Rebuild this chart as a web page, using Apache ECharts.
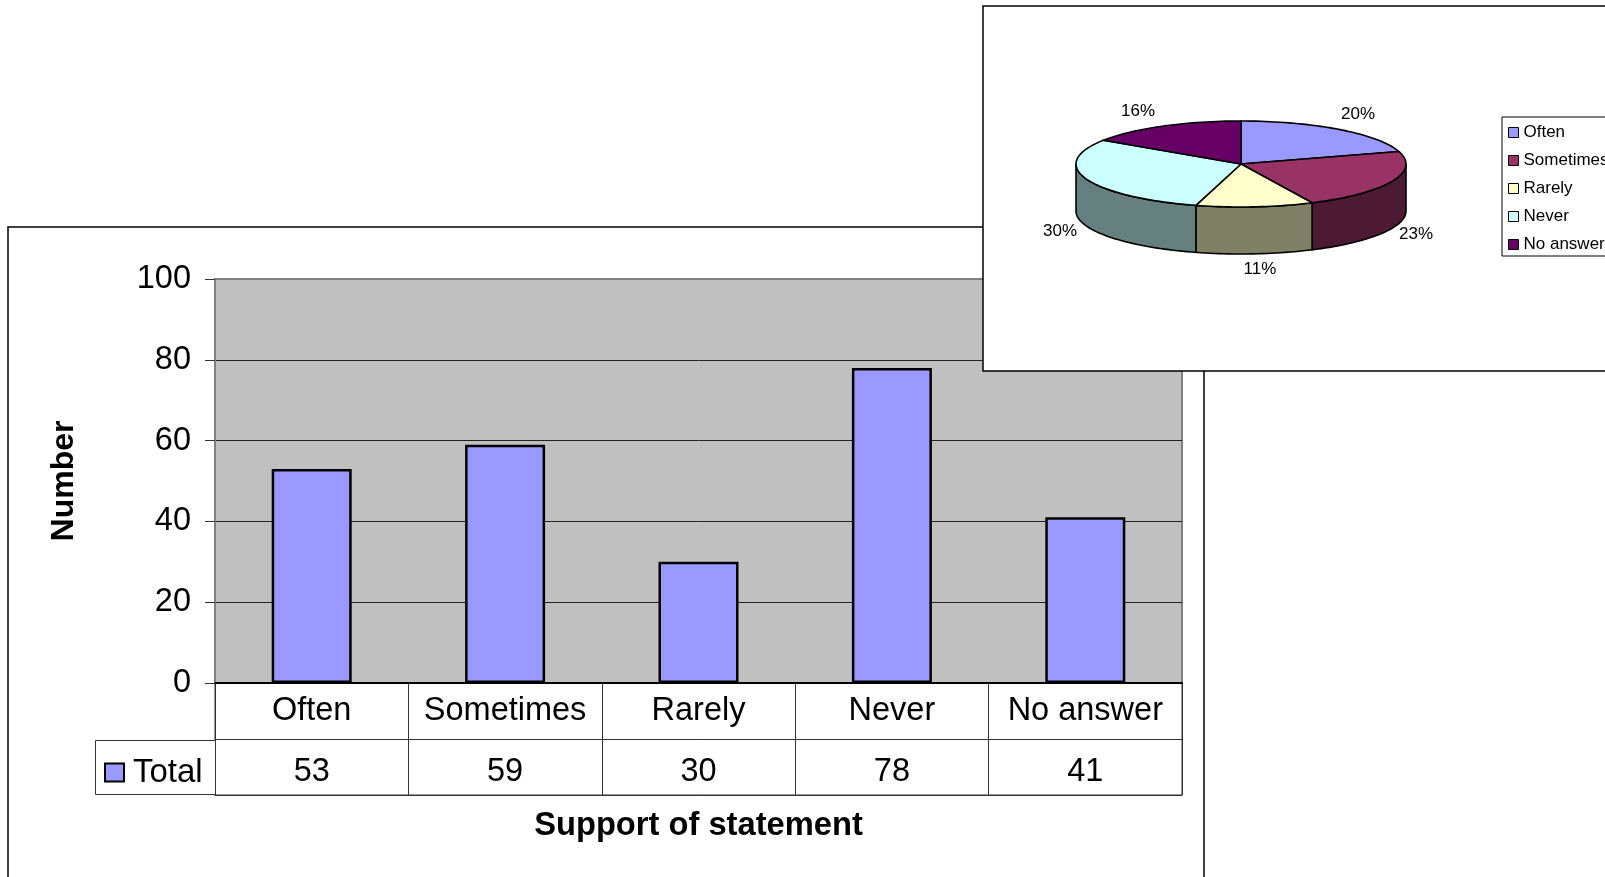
<!DOCTYPE html>
<html><head><meta charset="utf-8">
<style>html,body{margin:0;padding:0;background:#fff;overflow:hidden}#c{width:1605px;height:877px}</style>
<script src="https://cdn.jsdelivr.net/npm/echarts@6/dist/echarts.min.js"></script>
</head><body><div id="c"></div>
<script>
const categories = ['Often','Sometimes','Rarely','Never','No answer'];
const totals = [53,59,30,78,41];
const yTicks = [0,20,40,60,80,100];
const pieTopColors = ['#9999FF','#993366','#FFFFCC','#CCFFFF','#660066'];
const pieSideColors = ['#4D4D80','#4D1A33','#808066','#668080','#330033'];
const pieLabelOffsets = [[117,-50],[175,70],[19,105],[-181,67],[-103,-53]];

const FONT = '"Liberation Sans", Arial, sans-serif';
const pie = {cx:1241, cy:164, rx:165, ry:43, depth:47};
const sum = totals.reduce((a,b)=>a+b,0);
const chart = echarts.init(document.getElementById('c'));

function pt(t, dy){ return [pie.cx + pie.rx*Math.sin(t), pie.cy - pie.ry*Math.cos(t) + (dy||0)]; }
function arc(a,b,dy){
  const n = Math.max(2, Math.ceil(Math.abs(b-a)/0.03)), out=[];
  for(let i=0;i<=n;i++) out.push(pt(a+(b-a)*i/n,dy));
  return out;
}
function sliceItem(idx){
  return function(){
    const before = totals.slice(0,idx).reduce((a,b)=>a+b,0);
    const a0 = before/sum*2*Math.PI, a1 = (before+totals[idx])/sum*2*Math.PI;
    const children = [];
    const f0 = Math.max(a0,Math.PI/2), f1 = Math.min(a1,Math.PI*1.5);
    if(f1>f0){
      children.push({type:'polygon',z2:1,shape:{points:arc(f0,f1,0).concat(arc(f1,f0,pie.depth))},
        style:{fill:pieSideColors[idx],stroke:'#000',lineWidth:1.6}});
    }
    children.push({type:'polygon',z2:2,shape:{points:[[pie.cx,pie.cy]].concat(arc(a0,a1,0))},
      style:{fill:pieTopColors[idx],stroke:'#000',lineWidth:1.6}});
    children.push({type:'text',z2:3,x:pie.cx+pieLabelOffsets[idx][0],y:pie.cy+pieLabelOffsets[idx][1],
      style:{text:Math.round(totals[idx]/sum*100)+'%',fill:'#000',font:'17px '+FONT,textAlign:'center',textVerticalAlign:'middle'}});
    return {type:'group',children};
  };
}

const pieSeries = categories.map((name,i)=>({
  type:'custom', name, coordinateSystem:'none', z:10, silent:true, animation:false,
  data:[totals[i]], renderItem:sliceItem(i),
  itemStyle:{color:pieTopColors[i],borderColor:'#000',borderWidth:1}
}));

chart.setOption({
  animation:false,
  backgroundColor:'#fff',
  textStyle:{fontFamily:FONT,color:'#000'},
  graphic:[
    {type:'rect',z:-5,silent:true,shape:{x:8,y:227,width:1196,height:700},style:{fill:'#fff',stroke:'#000',lineWidth:1.5}},
    {type:'rect',z:1,silent:true,shape:{x:95.5,y:740.5,width:120,height:54},style:{fill:'#fff',stroke:'#333',lineWidth:1}},
    {type:'rect',z:5,silent:true,shape:{x:983,y:6,width:700,height:365},style:{fill:'#fff',stroke:'#000',lineWidth:1.5}}
  ],
  legend:[
    {show:true,data:categories,orient:'vertical',left:1502,top:117,z:10,padding:[7,4,3,6],itemGap:11,itemWidth:10,itemHeight:10,
     borderColor:'#000',borderWidth:1,backgroundColor:'#fff',selectedMode:false,
     itemStyle:{borderColor:'#000',borderWidth:1},textStyle:{fontSize:17,color:'#000',fontFamily:FONT},icon:'rect'},
    {show:true,data:['Total'],left:104,top:756,z:3,padding:0,itemWidth:19,itemHeight:18,selectedMode:false,icon:'rect',
     itemStyle:{borderColor:'#000',borderWidth:2},textStyle:{fontSize:33,color:'#000',fontFamily:FONT,padding:[0,0,0,4]}}
  ],
  grid:[
    {left:215,top:279,width:967,height:404,show:true,backgroundColor:'#C0C0C0',borderColor:'#808080',borderWidth:2},
    {left:215,top:683,width:967,height:112,show:true,backgroundColor:'#fff',borderColor:'#333',borderWidth:1}
  ],
  xAxis:[
    {type:'category',gridIndex:0,data:categories,axisTick:{show:false},axisLine:{lineStyle:{color:'#000',width:2}},
     axisLabel:{color:'#000',fontSize:32.5,margin:12,interval:0,fontFamily:FONT}},
    {type:'category',gridIndex:1,data:totals.map(String),position:'bottom',axisTick:{show:false},
     axisLine:{lineStyle:{color:'#333',width:1}},
     splitLine:{show:true,interval:0,lineStyle:{color:'#333',width:1}},
     axisLabel:{inside:true,color:'#000',fontSize:32.5,margin:6,interval:0,fontFamily:FONT},
     name:'Support of statement',nameLocation:'middle',nameGap:14,
     nameTextStyle:{fontSize:32.7,fontWeight:'bold',color:'#000',fontFamily:FONT}}
  ],
  yAxis:[
    {type:'value',gridIndex:0,min:yTicks[0],max:yTicks[yTicks.length-1],interval:yTicks[1]-yTicks[0],
     axisLine:{show:true,lineStyle:{color:'#808080',width:2}},
     axisTick:{show:true,length:10,lineStyle:{color:'#333',width:1}},
     splitLine:{show:true,showMinLine:false,showMaxLine:false,lineStyle:{color:'#222',width:1}},
     axisLabel:{color:'#000',fontSize:32.5,margin:24,fontFamily:FONT,padding:[2,0,0,0]},
     name:'Number',nameLocation:'middle',nameRotate:90,nameGap:135,
     nameTextStyle:{fontSize:32,fontWeight:'bold',color:'#000',fontFamily:FONT}},
    {type:'value',gridIndex:1,min:0,max:2,interval:1,axisLine:{show:false},axisTick:{show:false},axisLabel:{show:false},
     splitLine:{show:true,lineStyle:{color:'#333',width:1}}}
  ],
  series:[
    {type:'bar',name:'Total',data:totals,xAxisIndex:0,yAxisIndex:0,barWidth:80,z:2,silent:true,
     itemStyle:{color:'#9999FF',borderColor:'#000',borderWidth:2.5}}
  ].concat(pieSeries)
});
</script></body></html>
